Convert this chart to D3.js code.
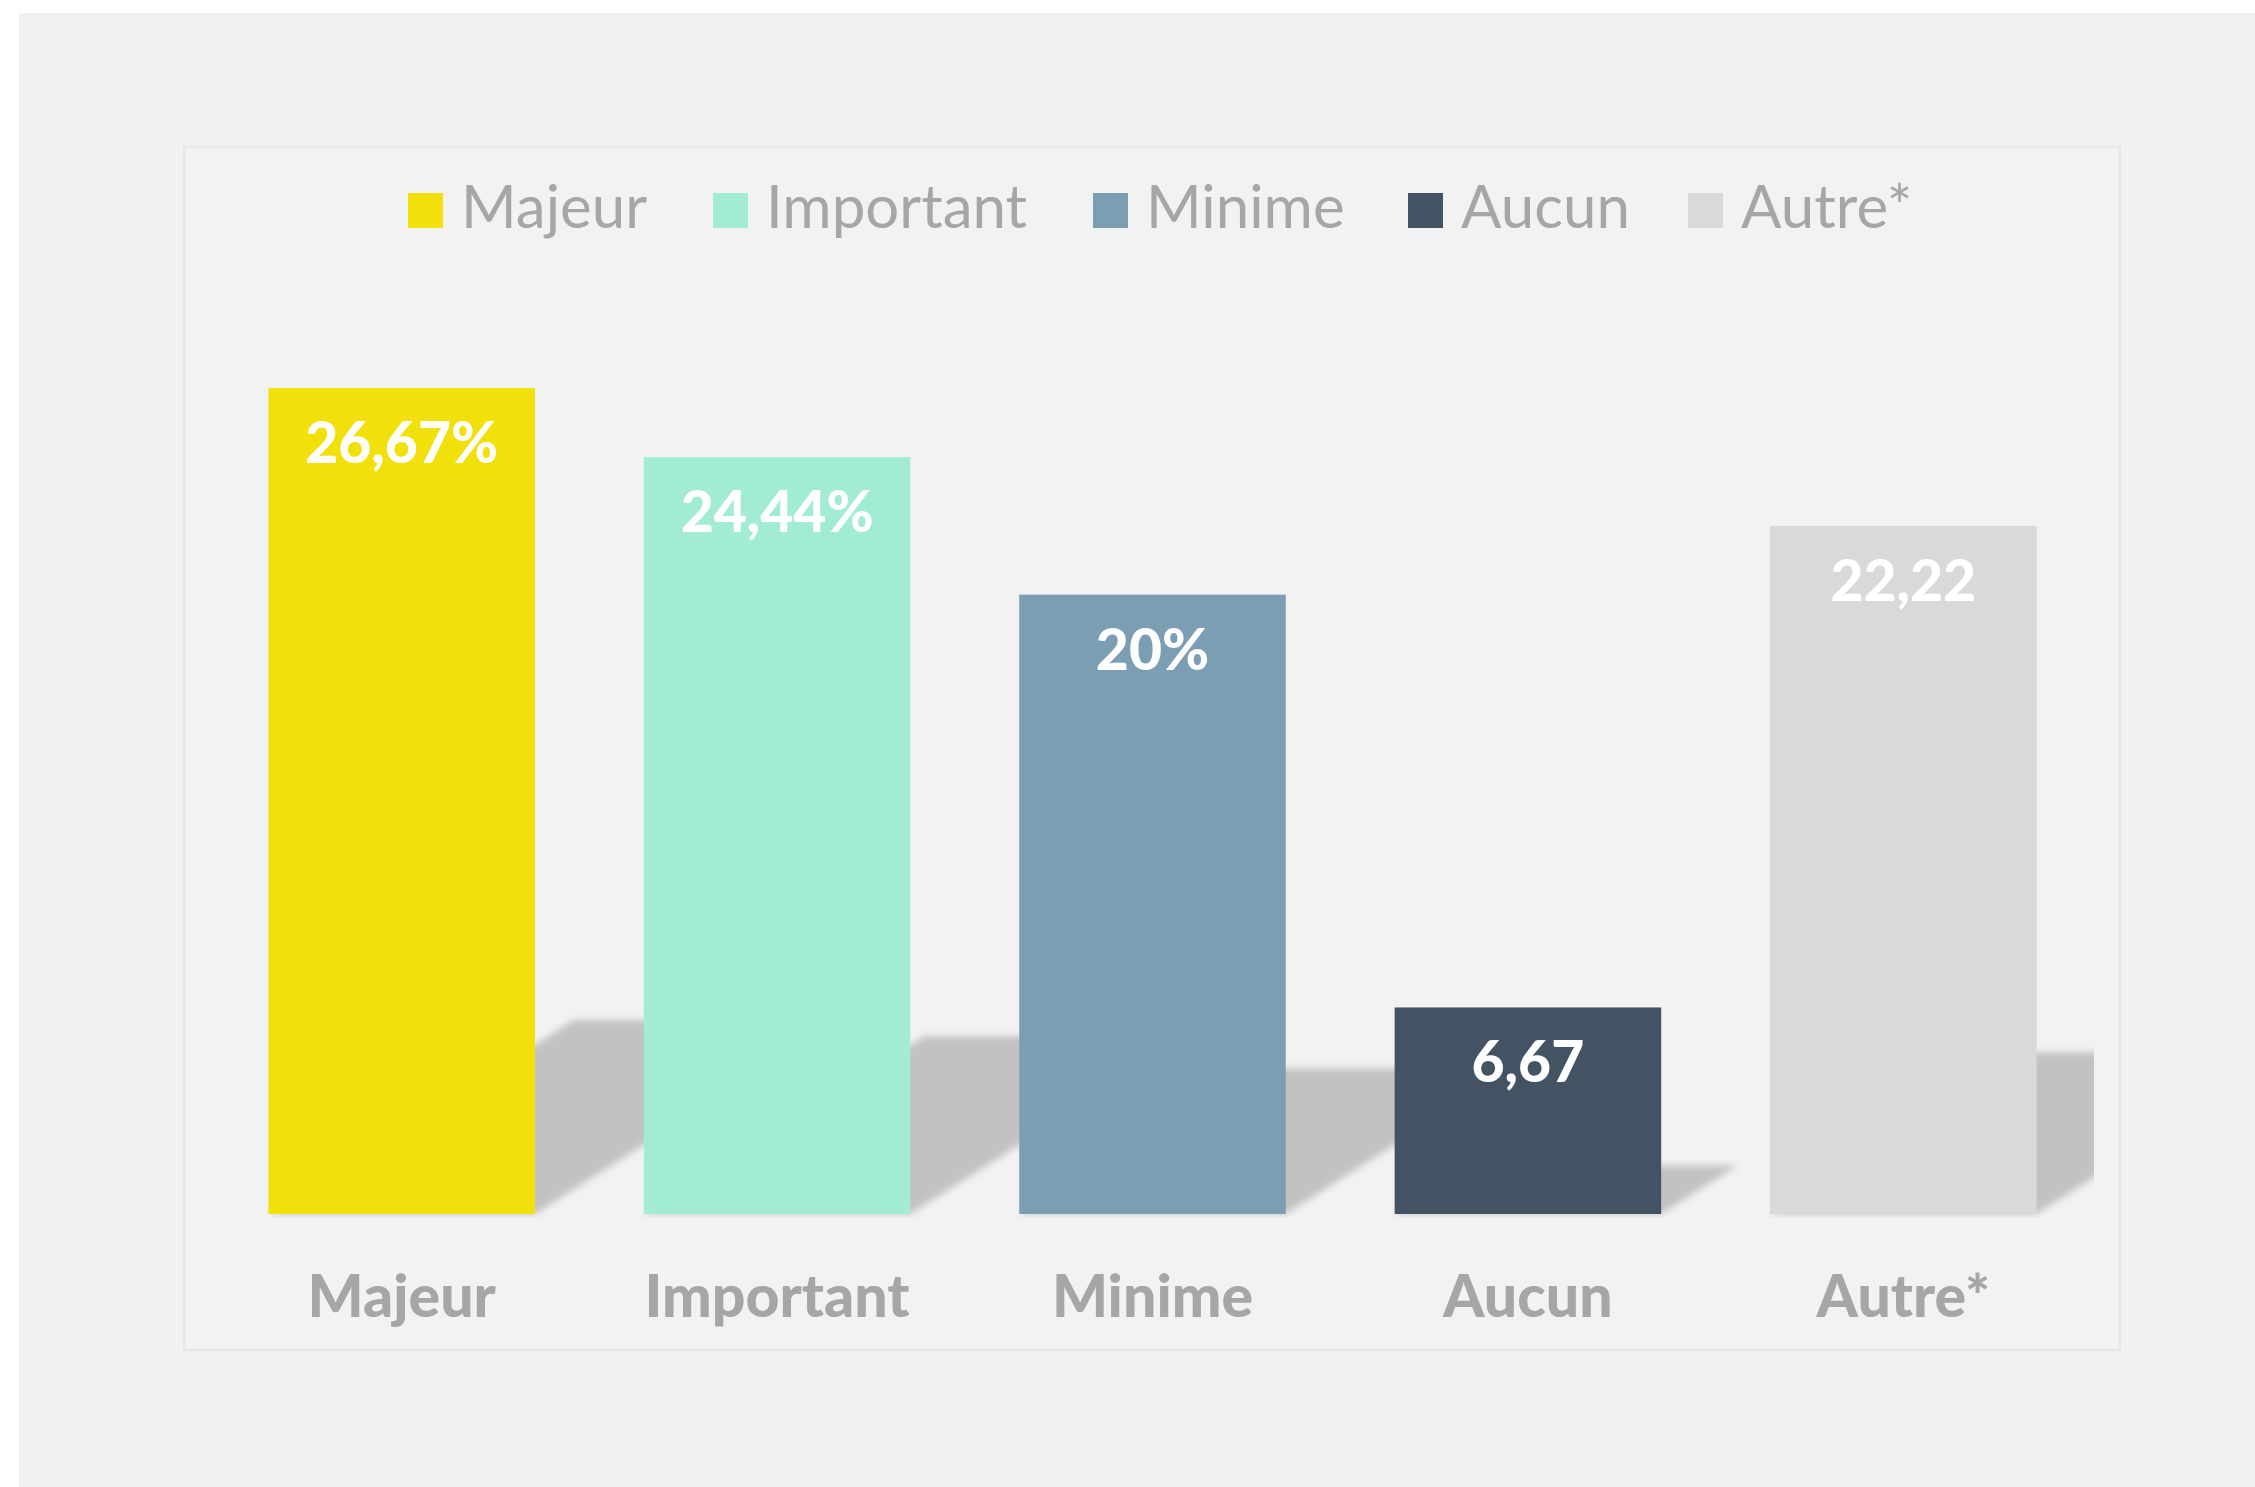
<!DOCTYPE html>
<html>
<head>
<meta charset="utf-8">
<script src="https://cdn.jsdelivr.net/npm/d3@7"></script>
<style>
  body { margin: 0; background: #ffffff; }
  svg { display: block; }
</style>
</head>
<body>
<svg id="chart" width="2255" height="1487"></svg>
<script>
// data
var categories = ["Majeur", "Important", "Minime", "Aucun", "Autre*"];
var values = [26.67, 24.44, 20, 6.67, 22.22];
var valueLabels = ["26,67%", "24,44%", "20%", "6,67", "22,22"];
var colors = ["#f2e00a", "#a2ecd2", "#7b9eb3", "#435364", "#d9d9d9"];

var W = 2255, H = 1487;
var svg = d3.select("#chart");
var font = "Lato, 'Open Sans', sans-serif";

// backgrounds
svg.append("rect")
  .attr("x", 19).attr("y", 13)
  .attr("width", W - 19).attr("height", H - 13)
  .attr("fill", "#f1f1f1");

var box = {x: 184, y: 147, w: 1936, h: 1203};
svg.append("rect")
  .attr("x", box.x).attr("y", box.y)
  .attr("width", box.w).attr("height", box.h)
  .attr("fill", "#f2f2f2")
  .attr("stroke", "#e6e6e6")
  .attr("stroke-width", 2.5);

// plot area
var plot = {left: 214, right: 2091, top: 285, bottom: 1214};

var x = d3.scaleBand()
  .domain(categories)
  .range([plot.left, plot.right])
  .paddingInner(0.29)
  .paddingOuter(0.145);

var y = d3.scaleLinear()
  .domain([0, 30])
  .range([plot.bottom, plot.top]);

var color = d3.scaleOrdinal().domain(categories).range(colors);

var rows = categories.map(function(c, i){
  return {cat: c, val: values[i], lab: valueLabels[i]};
});

var defs = svg.append("defs");
defs.append("filter")
  .attr("id", "blur")
  .attr("x", "-10%").attr("y", "-10%")
  .attr("width", "120%").attr("height", "120%")
  .append("feGaussianBlur")
  .attr("stdDeviation", 3.5);
defs.append("clipPath")
  .attr("id", "plotclip")
  .append("rect")
  .attr("x", plot.left).attr("y", 0)
  .attr("width", 2094 - plot.left).attr("height", plot.bottom + 4);

// perspective shadows behind the bars
var shadows = svg.append("g")
  .attr("clip-path", "url(#plotclip)")
  .append("g")
  .attr("filter", "url(#blur)");
shadows.selectAll("polygon")
  .data(rows)
  .enter()
  .append("polygon")
  .attr("fill", "#c2c2c2")
  .attr("points", function(d){
    var x0 = x(d.cat), x1 = x0 + x.bandwidth();
    var hgt = y(0) - y(d.val);
    var dy = hgt * 0.235, dx = hgt * 0.37;
    var b = y(0);
    return [[x0, b], [x1, b], [x1 + dx, b - dy], [x0 + dx, b - dy]]
      .map(function(p){ return p.join(","); }).join(" ");
  });

// bars
var bars = svg.append("g");
bars.selectAll("rect")
  .data(rows)
  .enter()
  .append("rect")
  .attr("x", function(d){ return x(d.cat); })
  .attr("y", function(d){ return y(d.val); })
  .attr("width", x.bandwidth())
  .attr("height", function(d){ return y(0) - y(d.val); })
  .attr("fill", function(d){ return color(d.cat); });

// value labels
bars.selectAll("text")
  .data(rows)
  .enter()
  .append("text")
  .attr("x", function(d){ return x(d.cat) + x.bandwidth() / 2; })
  .attr("y", function(d){ return y(d.val) + 75; })
  .attr("text-anchor", "middle")
  .attr("font-family", font)
  .attr("font-weight", 900)
  .attr("font-size", 57)
  .attr("fill", "#ffffff")
  .text(function(d){ return d.lab; });

// category axis
var xAxis = d3.axisBottom(x).tickSize(0).tickPadding(0);
var xAxisEl = svg.append("g")
  .attr("transform", "translate(0," + plot.bottom + ")")
  .call(xAxis);
xAxisEl.select(".domain").remove();
xAxisEl.selectAll("text")
  .attr("dy", null)
  .attr("y", 103)
  .attr("font-family", font)
  .attr("font-weight", 900)
  .attr("font-size", 59)
  .attr("fill", "#a5a7a5");

// legend
var legendX = [408, 713, 1093, 1408, 1688];
var legend = svg.append("g");
var items = legend.selectAll("g")
  .data(categories)
  .enter()
  .append("g")
  .attr("transform", function(d, i){ return "translate(" + legendX[i] + ",193)"; });
items.append("rect")
  .attr("width", 35).attr("height", 35)
  .attr("fill", function(d){ return color(d); });
items.append("text")
  .attr("x", 53).attr("y", 35)
  .attr("font-family", font)
  .attr("font-size", 60)
  .attr("fill", "#a6a6a6")
  .text(function(d){ return d; });
</script>
</body>
</html>
